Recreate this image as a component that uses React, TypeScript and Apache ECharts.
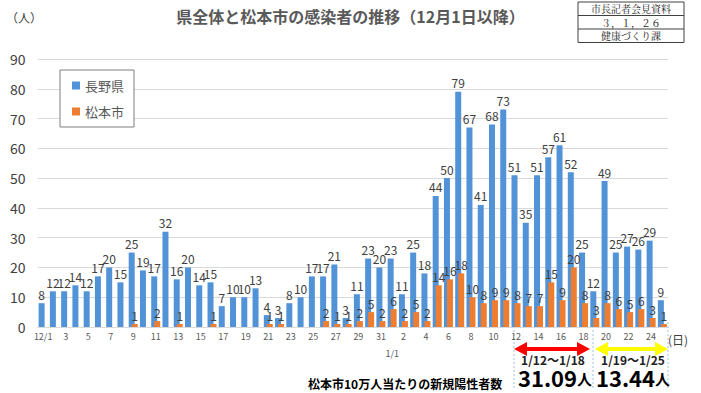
import React, { useEffect, useRef } from "react";
import * as echarts from "echarts";

const categories: string[] = [
  "12/1","12/2","12/3","12/4","12/5","12/6","12/7","12/8","12/9","12/10",
  "12/11","12/12","12/13","12/14","12/15","12/16","12/17","12/18","12/19","12/20",
  "12/21","12/22","12/23","12/24","12/25","12/26","12/27","12/28","12/29","12/30","12/31",
  "1/1","1/2","1/3","1/4","1/5","1/6","1/7","1/8","1/9","1/10",
  "1/11","1/12","1/13","1/14","1/15","1/16","1/17","1/18","1/19","1/20",
  "1/21","1/22","1/23","1/24","1/25",
];

const naganoValues: number[] = [
  8, 12, 12, 14, 12, 17, 20, 15, 25, 19,
  17, 32, 16, 20, 14, 15, 7, 10, 10, 13,
  4, 3, 8, 10, 17, 17, 21, 3, 11, 23, 20,
  23, 11, 25, 18, 44, 50, 79, 67, 41, 68,
  73, 51, 35, 51, 57, 61, 52, 25, 12, 49,
  25, 27, 26, 29, 9,
];

const matsumotoValues: number[] = [
  0, 0, 0, 0, 0, 0, 0, 0, 1, 0,
  2, 0, 1, 0, 0, 1, 0, 0, 0, 0,
  1, 1, 0, 0, 0, 2, 1, 1, 2, 5, 2,
  6, 2, 5, 2, 14, 16, 18, 10, 8, 9,
  9, 8, 7, 7, 15, 9, 20, 8, 3, 8,
  6, 5, 6, 3, 1,
];

const seriesNames: string[] = ["長野県", "松本市"];
const yTicks = { min: 0, max: 90, interval: 10 };
const weekLabels: string[] = ["1/12～1/18", "1/19～1/25"];
const weekRates: string[] = ["31.09", "13.44"];
const stampLines: string[] = ["市長記者会見資料", "３，１，２６", "健康づくり課"];

const FONT = '"Noto Sans CJK JP", "Noto Sans", sans-serif';

export default function App() {
  const ref = useRef<HTMLDivElement>(null);

  useEffect(() => {
    document.body.style.margin = "0";
    if (!ref.current) return;
    const chart = echarts.init(ref.current, undefined, { renderer: "svg" });

    const labelStyle = {
      show: true,
      position: "top" as const,
      distance: 3,
      fontSize: 12,
      color: "#404040",
      fontFamily: FONT,
      formatter: (p: any) => (p.value === 0 ? "" : String(p.value)),
    };

    const arrow = (x1: number, x2: number, y: number, color: string) => {
      const head = 13;
      const hh = 7;
      const sh = 2;
      return {
        type: "polygon",
        shape: {
          points: [
            [x1, y],
            [x1 + head, y - hh],
            [x1 + head, y - sh],
            [x2 - head, y - sh],
            [x2 - head, y - hh],
            [x2, y],
            [x2 - head, y + hh],
            [x2 - head, y + sh],
            [x1 + head, y + sh],
            [x1 + head, y + hh],
          ],
        },
        style: { fill: color },
      };
    };

    const dotted = (x: number) => ({
      type: "line",
      shape: { x1: x, y1: 322, x2: x, y2: 388 },
      style: { stroke: "#9dc3e6", lineWidth: 1, lineDash: [2, 2] },
    });

    const rateText = (x: number, v: string) => ({
      type: "text",
      x,
      y: 377,
      style: {
        text: "{n|" + v + "}{u|人}",
        align: "center",
        verticalAlign: "middle",
        rich: {
          n: { fontSize: 22, lineHeight: 22, fontWeight: "bold", fill: "#000", fontFamily: FONT },
          u: { fontSize: 15, lineHeight: 22, fontWeight: "bold", fill: "#000", fontFamily: FONT, padding: [3, 0, 0, 0] },
        },
      },
    });

    const weekText = (x: number, v: string) => ({
      type: "text",
      x,
      y: 359,
      style: {
        text: v,
        fontSize: 12,
        lineHeight: 13,
        fontWeight: "bold",
        fill: "#222",
        align: "center",
        verticalAlign: "middle",
        fontFamily: FONT,
      },
    });

    const stampX = 578;
    const stampW = 106;
    const stampRowH = 13.5;

    const option: any = {
      animation: false,
      backgroundColor: "#ffffff",
      textStyle: { fontFamily: FONT },
      grid: { left: 37.5, right: 33, top: 59, bottom: 66 },
      legend: {
        data: seriesNames,
        orient: "vertical",
        left: 60,
        top: 70,
        width: 71,
        icon: "rect",
        itemWidth: 8,
        itemHeight: 8,
        itemGap: 13,
        padding: [9, 10, 9, 12],
        borderColor: "#7f7f7f",
        borderWidth: 1,
        backgroundColor: "#ffffff",
        textStyle: { fontSize: 13, color: "#595959", fontFamily: FONT },
      },
      xAxis: {
        type: "category",
        data: categories,
        axisTick: { show: false },
        axisLine: { show: true, lineStyle: { color: "#d9d9d9" } },
        axisLabel: {
          interval: (i: number) => i % 2 === 0 || i === 31,
          margin: 5,
          fontSize: 9,
          color: "#595959",
          fontFamily: FONT,
          formatter: (v: string, i: number) => {
            if (i === 0) return v;
            if (i === 31) return "{s|" + v + "}";
            return v.split("/")[1];
          },
          rich: {
            s: { fontSize: 9, color: "#595959", padding: [17, 0, 0, 0] },
          },
        },
      },
      yAxis: {
        type: "value",
        min: yTicks.min,
        max: yTicks.max,
        interval: yTicks.interval,
        axisLine: { show: false },
        axisTick: { show: false },
        splitLine: { lineStyle: { color: "#d9d9d9", width: 1 } },
        axisLabel: { fontSize: 14, color: "#404040", margin: 12, fontFamily: FONT },
      },
      series: [
        {
          name: seriesNames[0],
          type: "bar",
          data: naganoValues,
          barWidth: 6,
          barGap: "-50%",
          itemStyle: { color: "#5293d8" },
          label: labelStyle,
        },
        {
          name: seriesNames[1],
          type: "bar",
          data: matsumotoValues,
          barWidth: 6,
          barGap: "-50%",
          itemStyle: { color: "#ed7d31" },
          label: labelStyle,
        },
      ],
      graphic: [
        {
          type: "text",
          left: "center",
          top: 8,
          style: {
            text: "県全体と松本市の感染者の推移（12月1日以降）",
            fontSize: 16,
            fontWeight: "bold",
            fill: "#595959",
            fontFamily: FONT,
          },
        },
        {
          type: "text",
          x: 6,
          y: 11,
          style: { text: "（人）", fontSize: 12, fill: "#404040", fontFamily: FONT },
        },
        {
          type: "rect",
          shape: { x: stampX, y: 2, width: stampW, height: stampRowH * 3 },
          style: { fill: "none", stroke: "#404040", lineWidth: 1 },
        },
        {
          type: "line",
          shape: { x1: stampX, y1: 2 + stampRowH, x2: stampX + stampW, y2: 2 + stampRowH },
          style: { stroke: "#404040", lineWidth: 1 },
        },
        {
          type: "line",
          shape: { x1: stampX, y1: 2 + stampRowH * 2, x2: stampX + stampW, y2: 2 + stampRowH * 2 },
          style: { stroke: "#404040", lineWidth: 1 },
        },
        ...stampLines.map((t, i) => ({
          type: "text",
          x: stampX + stampW / 2,
          y: 2 + stampRowH * i + stampRowH / 2,
          style: {
            text: t,
            fontSize: 10,
            fill: "#222",
            align: "center",
            verticalAlign: "middle",
            fontFamily: '"Noto Serif CJK JP", "Noto Sans CJK JP", serif',
          },
        })),
        {
          type: "text",
          x: 668,
          y: 333,
          style: { text: "(日)", fontSize: 12, fill: "#404040", fontFamily: FONT },
        },
        dotted(514),
        dotted(593),
        dotted(668),
        arrow(514, 590, 349, "#ff0000"),
        arrow(595, 668, 349, "#ffff00"),
        weekText(553, weekLabels[0]),
        weekText(633, weekLabels[1]),
        rateText(555, weekRates[0]),
        rateText(633, weekRates[1]),
        {
          type: "text",
          x: 308,
          y: 383,
          style: {
            text: "松本市10万人当たりの新規陽性者数",
            fontSize: 12,
            fontWeight: "bold",
            fill: "#000",
            verticalAlign: "middle",
            fontFamily: FONT,
          },
        },
      ],
    };

    chart.setOption(option);
    return () => chart.dispose();
  }, []);

  return <div ref={ref} style={{ width: 701, height: 393 }} />;
}
